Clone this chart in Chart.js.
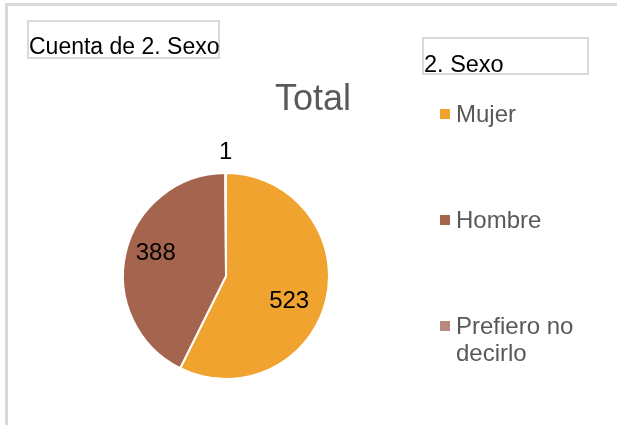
<!DOCTYPE html>
<html>
<head>
<meta charset="utf-8">
<script src="https://cdn.jsdelivr.net/npm/chart.js@4.4.1/dist/chart.umd.min.js"></script>
<style>
  html, body { margin: 0; padding: 0; background: #fff; }
  body { width: 617px; height: 425px; position: relative; overflow: hidden; font-family: "Liberation Sans", Arial, sans-serif; }
  #frame { position: absolute; left: 5px; top: 3px; width: 700px; height: 500px; border: 3px solid #d9d9d9; box-sizing: border-box; }
  #c { position: absolute; left: 0; top: 0; }
  .box { position: absolute; border: 2px solid #d9d9d9; box-sizing: border-box; color: #000; white-space: nowrap; }
  #fieldBox { left: 27px; top: 20px; width: 193px; height: 39px; font-size: 23px; line-height: 23px; padding-top: 13px; padding-left: 0px; }
  #legendBox { left: 422px; top: 37px; width: 167px; height: 38px; font-size: 23.5px; line-height: 24px; padding-top: 13px; }
  #title { position: absolute; left: 253px; width: 120px; top: 80px; text-align: center; font-size: 36px; line-height: 36px; color: #595959; }
  .leg { position: absolute; left: 440px; color: #595959; font-size: 24px; line-height: 27px; }
  .leg .sw { position: absolute; left: 0; width: 10px; height: 10px; }
  .leg .tx { position: absolute; left: 16px; white-space: nowrap; }
</style>
</head>
<body>
<div id="frame"></div>
<canvas id="c" width="617" height="425"></canvas>
<div class="box" id="fieldBox">Cuenta de 2. Sexo</div>
<div class="box" id="legendBox">2. Sexo</div>
<div id="title">Total</div>
<div id="legend"></div>
<script>
const categories = ["Mujer", "Hombre", "Prefiero no decirlo"];
const legendLines = [["Mujer"], ["Hombre"], ["Prefiero no", "decirlo"]];
const counts = [523, 388, 1];
const colors = ["#F0A32F", "#A5644E", "#B9897C"];
const titleText = "Total";

// Legend built from the arrays
const legendTops = [100, 206, 312];
const legendEl = document.getElementById("legend");
categories.forEach((cat, i) => {
  const item = document.createElement("div");
  item.className = "leg";
  item.style.top = legendTops[i] + "px";
  const sw = document.createElement("div");
  sw.className = "sw";
  sw.style.background = colors[i];
  sw.style.top = "9px";
  const tx = document.createElement("div");
  tx.className = "tx";
  tx.innerHTML = legendLines[i].join("<br>");
  item.appendChild(sw);
  item.appendChild(tx);
  legendEl.appendChild(item);
});
document.getElementById("title").textContent = titleText;

const dataLabels = {
  id: "dataLabels",
  afterDatasetsDraw(chart) {
    const ctx = chart.ctx;
    const meta = chart.getDatasetMeta(0);
    const total = counts.reduce((a, b) => a + b, 0);
    ctx.save();
    ctx.font = "24px 'Liberation Sans', Arial, sans-serif";
    ctx.fillStyle = "#000";
    ctx.textAlign = "center";
    ctx.textBaseline = "middle";
    meta.data.forEach((arc, i) => {
      const p = arc.getProps(["x", "y", "startAngle", "endAngle", "outerRadius"], true);
      const mid = (p.startAngle + p.endAngle) / 2;
      const share = counts[i] / total;
      let r, dy = 0;
      if (share < 0.03) { r = p.outerRadius + 21; }
      else if (share > 0.5) { r = p.outerRadius * 0.63; dy = 11; }
      else { r = p.outerRadius * 0.7; dy = -6; }
      const x = p.x + Math.cos(mid) * r;
      const y = p.y + Math.sin(mid) * r + dy;
      ctx.fillText(String(counts[i]), x, y);
    });
    ctx.restore();
  }
};

new Chart(document.getElementById("c"), {
  type: "pie",
  data: {
    labels: categories,
    datasets: [{
      data: counts,
      backgroundColor: colors,
      borderColor: "#ffffff",
      borderWidth: 2
    }]
  },
  options: {
    responsive: false,
    animation: false,
    radius: 103,
    layout: { padding: { left: 120, right: 285, top: 170, bottom: 43 } },
    plugins: {
      legend: { display: false },
      title: { display: false },
      tooltip: { enabled: false }
    }
  },
  plugins: [dataLabels]
});
</script>
</body>
</html>
